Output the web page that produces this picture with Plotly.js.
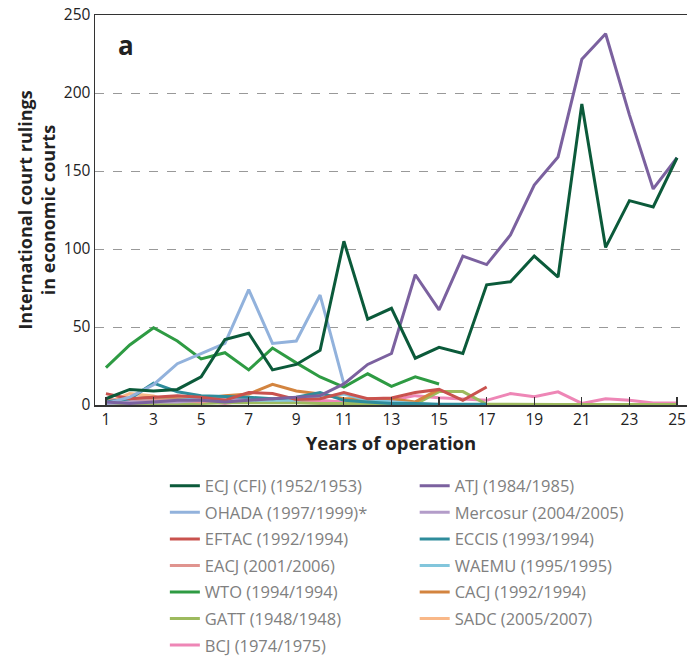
<!DOCTYPE html>
<html>
<head>
<meta charset="utf-8">
<script src="https://cdn.plot.ly/plotly-3.0.1.min.js"></script>
<style>html,body{margin:0;padding:0;background:#fff;}#chart{width:687px;height:657px;}</style>
</head>
<body>
<div id="chart"></div>
<script>
// Years of operation
const years = [1,2,3,4,5,6,7,8,9,10,11,12,13,14,15,16,17,18,19,20,21,22,23,24,25];

// Series values (rulings per year of operation)
const ECJ      = [4,10,9,10,18,42,46,22.5,26,35,105,55,62,30,37,33,77,79,95.5,82,193,101,131,127,158.5];
const ATJ      = [2,1,2,3,3,2,3,4,5,6,13.5,26,33,83.5,61,95.5,90,109,141,159,221.6,238,186,138.5,158.5];
const OHADA    = [1,5,13,26.5,33,39.5,74,39.5,41,70.5,13.5];
const Mercosur = [1,2,2,2,3,3,4];
const EFTAC    = [7.3,4,5,6,5,3,8,7.3,3.5,4,8,4,4.5,8,10,3,11.5];
const ECCIS    = [2,4,14,8.5,6,5.5,5,4,5,8,3,2,1,1,0.5,0.5,0.5];
const EACJ     = [4,2,3,3,2,4];
const WAEMU    = [1,2,3,3,4,4,3,3,3,5,7,3,2,1,0];
const WTO      = [24,38.5,49.5,41,29.5,33.5,22.5,36.5,27,18,11.5,20,12,18,13.5];
const CACJ     = [2,4,5,4,4,6,7,13.3,9,7,4,4,4,2,10];
const GATT     = [1,1,1,1,1,1.5,1.5,1.5,1.5,1,1,1,0.5,0.5,8.6,8.6,0.5,0.3,0.3,0.3,0.3,0.3,0.3,0.3,0.3];
const SADC     = [1,7.3,5.8,0.6];
const BCJ      = [1,1,2,2,3,1,3,4,2,3,2,3,3,6,4.7,3.7,3,7.3,5.3,8.4,1,4,3,1.3,1.3];

// Legend labels
const labels = {
  ECJ: "ECJ (CFI) (1952/1953)", ATJ: "ATJ (1984/1985)",
  OHADA: "OHADA (1997/1999)*", Mercosur: "Mercosur (2004/2005)",
  EFTAC: "EFTAC (1992/1994)", ECCIS: "ECCIS (1993/1994)",
  EACJ: "EACJ (2001/2006)", WAEMU: "WAEMU (1995/1995)",
  WTO: "WTO (1994/1994)", CACJ: "CACJ (1992/1994)",
  GATT: "GATT (1948/1948)", SADC: "SADC (2005/2007)",
  BCJ: "BCJ (1974/1975)"
};

const series = [
  ["BCJ", BCJ, "#ee86b6", "legend"],
  ["SADC", SADC, "#f9b888", "legend2"],
  ["GATT", GATT, "#9dba5e", "legend"],
  ["CACJ", CACJ, "#d3843f", "legend2"],
  ["WAEMU", WAEMU, "#82c6dc", "legend2"],
  ["EACJ", EACJ, "#e0948f", "legend"],
  ["Mercosur", Mercosur, "#b39cc9", "legend2"],
  ["ECCIS", ECCIS, "#2e8c9b", "legend2"],
  ["EFTAC", EFTAC, "#c9524e", "legend"],
  ["WTO", WTO, "#2e9b43", "legend"],
  ["OHADA", OHADA, "#92b2dc", "legend"],
  ["ATJ", ATJ, "#7b619f", "legend2"],
  ["ECJ", ECJ, "#0b5a3a", "legend"]
];
const legendOrder = ["ECJ","OHADA","EFTAC","EACJ","WTO","GATT","BCJ","ATJ","Mercosur","ECCIS","WAEMU","CACJ","SADC"];

const traces = series.map(([key, vals, color, leg]) => ({
  type: "scatter", mode: "lines",
  x: years.slice(0, vals.length), y: vals,
  name: labels[key], legend: leg, legendgroup: key,
  legendrank: legendOrder.indexOf(key) + 1,
  line: {color: color, width: 3},
  hoverinfo: "skip"
}));

const font = "Open Sans, Lato, sans-serif";
const legendCommon = {
  orientation: "v", yref: "paper", xref: "paper", yanchor: "top", xanchor: "left",
  font: {family: font, size: 16.5, color: "#808080"},
  tracegroupgap: 2.1, bgcolor: "rgba(0,0,0,0)", itemwidth: 30, traceorder: "grouped",
  maxheight: 600
};

const layout = {
  width: 687, height: 657,
  margin: {l: 95, r: 0, t: 15, b: 252, autoexpand: false},
  paper_bgcolor: "#fff", plot_bgcolor: "#fff",
  showlegend: true,
  font: {family: font, color: "#222"},
  xaxis: {
    range: [0.54, 25.42], tickvals: [1,3,5,7,9,11,13,15,17,19,21,23,25],
    ticks: "inside", ticklen: 8, tickwidth: 1.2, tickcolor: "#333",
    showline: true, linecolor: "#333", linewidth: 1.5, mirror: true,
    showgrid: false, zeroline: false,
    tickfont: {family: font, size: 15.5, color: "#222"},
    title: {text: "<b>Years of operation</b>", font: {family: font, size: 18.5, color: "#222"}, standoff: 6}
  },
  yaxis: {
    range: [0, 250], tickvals: [0,50,100,150,200,250],
    ticks: "", showline: true, linecolor: "#333", linewidth: 1.5,
    showgrid: true, gridcolor: "#999", griddash: "dash", gridwidth: 1,
    zeroline: false,
    tickfont: {family: font, size: 15.5, color: "#222"},
    title: {text: "<b>International court rulings<br>in economic courts</b>", font: {family: font, size: 18, color: "#222"}, standoff: 3}
  },
  legend: Object.assign({}, legendCommon, {x: 0.118, y: -0.163}),
  legend2: Object.assign({}, legendCommon, {x: 0.54, y: -0.163}),
  annotations: [{
    xref: "paper", yref: "paper", x: 0.035, y: 0.922, xanchor: "left", yanchor: "middle",
    text: "<b>a</b>", showarrow: false, font: {family: font, size: 26, color: "#222"}
  }]
};

Plotly.newPlot("chart", traces, layout, {displayModeBar: false, staticPlot: true});
</script>
</body>
</html>
